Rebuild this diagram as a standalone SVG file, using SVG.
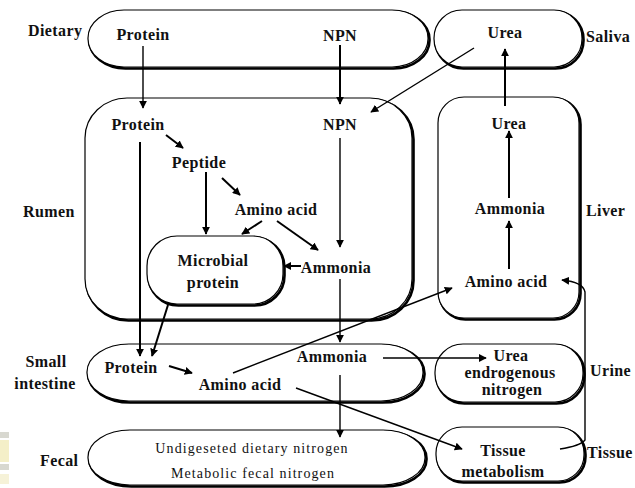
<svg xmlns="http://www.w3.org/2000/svg" width="635" height="488" viewBox="0 0 635 488">
<defs>
<marker id="ah" viewBox="0 0 10 10" refX="9" refY="5" markerWidth="8" markerHeight="8" markerUnits="userSpaceOnUse" orient="auto">
<path d="M0,0 L10,5 L0,10 Z" fill="#000"/>
</marker>
<style>
text{font-family:"Liberation Serif",serif;font-size:16px;font-weight:bold;fill:#111;text-anchor:middle;letter-spacing:0.4px}
.reg{font-weight:normal;font-size:14px;letter-spacing:1.1px}
.lab{text-anchor:start}
.sh{fill:none;stroke:#000;stroke-width:2.6}
.bx{fill:#fff;stroke:#000;stroke-width:1.2}
.c{fill:none;stroke:#000;stroke-width:1.4;marker-end:url(#ah)}
.c2{fill:none;stroke:#000;stroke-width:2;marker-end:url(#ah)}
</style>
</defs>
<rect width="635" height="488" fill="#fff"/>
<rect x="0" y="432" width="9" height="6" fill="#d8d8d0"/>
<rect x="0" y="440" width="9" height="22" fill="#f4efc8"/>
<rect x="0" y="464" width="9" height="6" fill="#d8d8d0"/>
<rect x="0" y="474" width="9" height="10" fill="#f6f2d8"/>
<g font-family="Liberation Serif, serif">
<g id="dietary">
<rect class="sh" x="89.5" y="11.5" width="340" height="57" rx="36" ry="28"/>
<rect class="bx" x="88" y="10" width="340" height="57" rx="36" ry="28"/>
<text x="143" y="40">Protein</text>
<text x="340" y="41">NPN</text>
</g>
<g id="saliva">
<rect class="sh" x="435.5" y="11.5" width="148" height="57" rx="28" ry="28"/>
<rect class="bx" x="434" y="10" width="148" height="57" rx="28" ry="28"/>
<text x="505" y="38">Urea</text>
</g>
<g id="rumen">
<rect class="sh" x="86.5" y="99.5" width="327" height="221" rx="42" ry="40"/>
<rect class="bx" x="85" y="98" width="327" height="221" rx="42" ry="40"/>
<text x="138" y="130">Protein</text>
<text x="340" y="130">NPN</text>
<text x="199" y="168">Peptide</text>
<text x="276" y="215">Amino acid</text>
<text x="336" y="273">Ammonia</text>
</g>
<g id="microbial">
<rect class="sh" x="148.5" y="237.5" width="136" height="68" rx="30" ry="30"/>
<rect class="bx" x="147" y="236" width="136" height="68" rx="30" ry="30"/>
<text x="213" y="266">Microbial</text>
<text x="213" y="288">protein</text>
</g>
<g id="liver">
<rect class="sh" x="439.5" y="98.5" width="141" height="221" rx="26" ry="26"/>
<rect class="bx" x="438" y="97" width="141" height="221" rx="26" ry="26"/>
<text x="509" y="129">Urea</text>
<text x="510" y="214">Ammonia</text>
<text x="506" y="287">Amino acid</text>
</g>
<g id="small-intestine">
<rect class="sh" x="88.5" y="345.5" width="336" height="57" rx="42" ry="28"/>
<rect class="bx" x="87" y="344" width="336" height="57" rx="42" ry="28"/>
<text x="131" y="373">Protein</text>
<text x="240" y="390">Amino acid</text>
<text x="332" y="362">Ammonia</text>
</g>
<g id="urea-endogenous">
<rect class="sh" x="436.5" y="345.5" width="148" height="58" rx="28" ry="28"/>
<rect class="bx" x="435" y="344" width="148" height="58" rx="28" ry="28"/>
<text x="511" y="361">Urea</text>
<text x="510" y="378">endrogenous</text>
<text x="512" y="395">nitrogen</text>
</g>
<g id="fecal">
<rect class="sh" x="89.5" y="431.5" width="337" height="55" rx="42" ry="27"/>
<rect class="bx" x="88" y="430" width="337" height="55" rx="42" ry="27"/>
<text class="reg" x="252" y="453">Undigeseted dietary nitrogen</text>
<text class="reg" x="253" y="478">Metabolic fecal nitrogen</text>
</g>
<g id="tissue">
<rect class="sh" x="437.5" y="428.5" width="148" height="54" rx="26" ry="26"/>
<rect class="bx" x="436" y="427" width="148" height="54" rx="26" ry="26"/>
<text x="503" y="456">Tissue</text>
<text x="503" y="477">metabolism</text>
</g>
<g id="side-labels">
<text class="lab" x="28" y="36">Dietary</text>
<text class="lab" x="586" y="42">Saliva</text>
<text class="lab" x="23" y="217">Rumen</text>
<text class="lab" x="586" y="216">Liver</text>
<text x="46" y="367">Small</text>
<text x="45" y="389">intestine</text>
<text class="lab" x="590" y="376">Urine</text>
<text class="lab" x="40" y="466">Fecal</text>
<text class="lab" x="587" y="458">Tissue</text>
</g>
</g>
<g id="connectors">
<line class="c" x1="143" y1="46" x2="143" y2="108"/>
<line class="c2" x1="340" y1="45" x2="340" y2="104"/>
<line class="c" x1="474" y1="48" x2="371" y2="112"/>
<line class="c2" x1="166" y1="135" x2="183" y2="148"/>
<line class="c2" x1="222" y1="178" x2="240" y2="195"/>
<line class="c2" x1="206" y1="172" x2="206" y2="234"/>
<line class="c2" x1="262" y1="221" x2="242" y2="234"/>
<line class="c2" x1="277" y1="221" x2="318" y2="250"/>
<line class="c" x1="340" y1="138" x2="340" y2="247"/>
<line class="c2" x1="301" y1="266" x2="284" y2="266"/>
<line class="c2" x1="140" y1="142" x2="140" y2="356"/>
<line class="c2" x1="168" y1="305" x2="152" y2="356"/>
<line class="c" x1="340" y1="279" x2="340" y2="342"/>
<line class="c2" x1="169" y1="366" x2="192" y2="373"/>
<line class="c" x1="233" y1="373" x2="452" y2="288"/>
<line class="c" x1="383" y1="358" x2="486" y2="358"/>
<line class="c" x1="340" y1="375" x2="340" y2="437"/>
<line class="c" x1="296" y1="388" x2="462" y2="449"/>
<line class="c2" x1="509" y1="269" x2="509" y2="221"/>
<line class="c2" x1="509" y1="198" x2="509" y2="131"/>
<line class="c2" x1="505" y1="106" x2="505" y2="49"/>
<path class="c" d="M560,449 Q580,446 585,440 L585,292 Q583,282 562,280"/>
</g>
</svg>
